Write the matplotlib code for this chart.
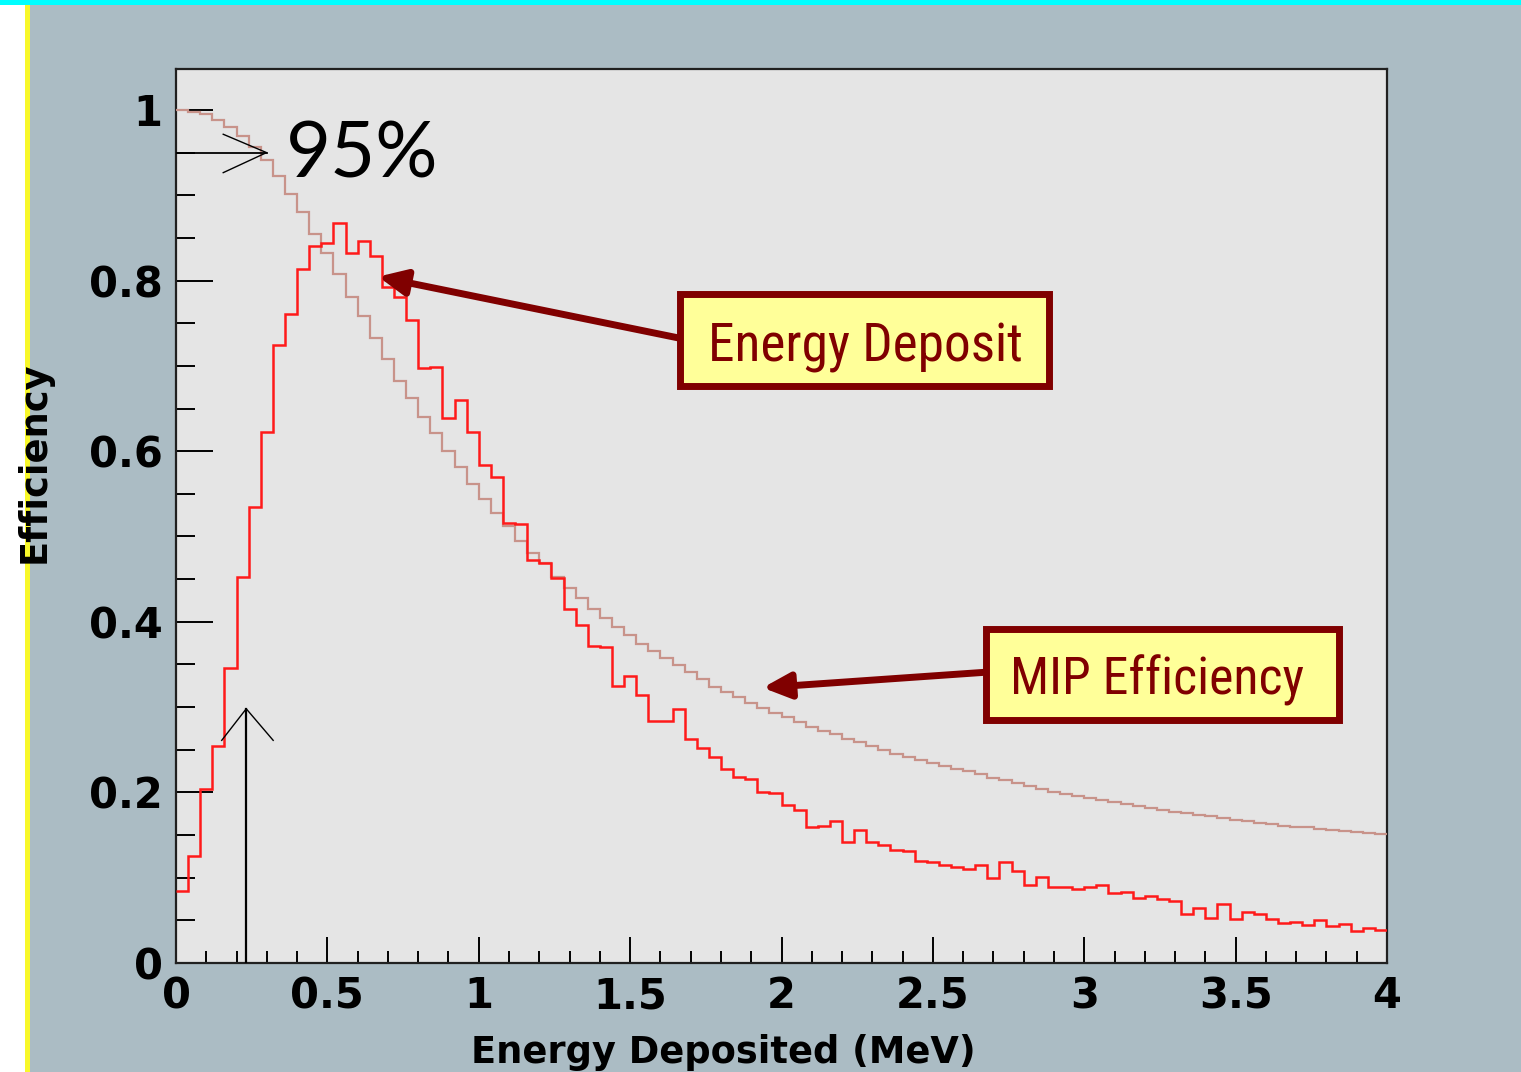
import numpy as np
import matplotlib
matplotlib.use("Agg")
import matplotlib.pyplot as plt
from matplotlib.patches import Rectangle
from matplotlib.ticker import MultipleLocator
import logging
logging.getLogger("matplotlib.font_manager").setLevel(logging.ERROR)

# ---------------- data ----------------
E_MIN, E_MAX, N_BINS = 0.0, 4.0, 100

energy_deposit = [
    0.084, 0.126, 0.204, 0.254, 0.346, 0.452, 0.534, 0.623, 0.724, 0.761,
    0.814, 0.840, 0.844, 0.867, 0.832, 0.846, 0.829, 0.792, 0.781, 0.754,
    0.698, 0.699, 0.639, 0.660, 0.622, 0.584, 0.570, 0.516, 0.515, 0.473,
    0.469, 0.451, 0.415, 0.396, 0.372, 0.371, 0.325, 0.337, 0.314, 0.284,
    0.284, 0.298, 0.263, 0.252, 0.241, 0.227, 0.218, 0.216, 0.200, 0.199,
    0.185, 0.179, 0.160, 0.161, 0.167, 0.142, 0.156, 0.142, 0.138, 0.133,
    0.131, 0.120, 0.118, 0.115, 0.112, 0.110, 0.115, 0.100, 0.118, 0.108,
    0.091, 0.101, 0.089, 0.089, 0.087, 0.089, 0.091, 0.082, 0.083, 0.076,
    0.078, 0.075, 0.073, 0.057, 0.065, 0.053, 0.069, 0.052, 0.060, 0.057,
    0.052, 0.047, 0.048, 0.044, 0.050, 0.043, 0.046, 0.038, 0.041, 0.039,
]

mip_efficiency = [
    1.000, 0.998, 0.995, 0.988, 0.980, 0.970, 0.957, 0.941, 0.923, 0.901,
    0.880, 0.855, 0.832, 0.808, 0.781, 0.758, 0.733, 0.708, 0.682, 0.662,
    0.640, 0.621, 0.600, 0.582, 0.562, 0.544, 0.527, 0.512, 0.495, 0.481,
    0.469, 0.452, 0.440, 0.428, 0.415, 0.404, 0.394, 0.385, 0.374, 0.366,
    0.357, 0.349, 0.341, 0.333, 0.324, 0.318, 0.312, 0.305, 0.299, 0.293,
    0.288, 0.282, 0.277, 0.272, 0.268, 0.263, 0.259, 0.254, 0.250, 0.245,
    0.241, 0.238, 0.234, 0.231, 0.228, 0.225, 0.221, 0.217, 0.2145, 0.211,
    0.207, 0.204, 0.201, 0.1985, 0.196, 0.193, 0.191, 0.189, 0.186, 0.184,
    0.182, 0.179, 0.177, 0.1755, 0.1735, 0.172, 0.170, 0.168, 0.1665, 0.1645,
    0.163, 0.161, 0.160, 0.159, 0.1575, 0.156, 0.1545, 0.153, 0.152, 0.151,
]

x_ticks = [0, 0.5, 1, 1.5, 2, 2.5, 3, 3.5, 4]
x_tick_labels = ["0", "0.5", "1", "1.5", "2", "2.5", "3", "3.5", "4"]
y_ticks = [0, 0.2, 0.4, 0.6, 0.8, 1.0]
y_tick_labels = ["0", "0.2", "0.4", "0.6", "0.8", "1"]

threshold_95 = 0.95      # efficiency level marked by the horizontal arrow
threshold_energy = 0.232 # energy marked by the vertical arrow
threshold_height = 0.298

# ---------------- styles ----------------
W, H, DPI = 1521, 1072, 100
BG = "#abbcc4"
PANEL = "#e5e5e5"
MAROON = "#800000"
BOXFILL = "#ffff99"
RED = "#ff1a1a"
MIPC = "#c8938a"

fig = plt.figure(figsize=(W / DPI, H / DPI), dpi=DPI)
fig.patch.set_facecolor(BG)

def fx(px):
    return px / W

def fy(py):
    return 1 - py / H

# decorative strips: white left margin, yellow line, cyan top line
fig.patches.append(Rectangle((0, 0), fx(25), 1, transform=fig.transFigure,
                             facecolor="white", edgecolor="none", zorder=0))
fig.patches.append(Rectangle((fx(25), 0), fx(4.5), 1, transform=fig.transFigure,
                             facecolor="#f8f82a", edgecolor="none", zorder=0))
fig.patches.append(Rectangle((0, fy(5)), 1, 5 / H, transform=fig.transFigure,
                             facecolor="#00ffff", edgecolor="none", zorder=0))

ax = fig.add_axes([fx(176), fy(963), fx(1387) - fx(176), fy(69) - fy(963)])
ax.set_facecolor(PANEL)

edges = np.linspace(E_MIN, E_MAX, N_BINS + 1)
ax.stairs(mip_efficiency, edges, baseline=None, color=MIPC, lw=1.6, zorder=3)
ax.stairs(energy_deposit, edges, baseline=None, color=RED, lw=1.8, zorder=4)

ax.set_xlim(E_MIN, E_MAX)
ax.set_ylim(0, 1.048)

ax.set_xticks(x_ticks)
ax.set_xticklabels(x_tick_labels)
ax.set_yticks(y_ticks)
ax.set_yticklabels(y_tick_labels)
ax.xaxis.set_minor_locator(MultipleLocator(0.1))
ax.yaxis.set_minor_locator(MultipleLocator(0.05))

ax.tick_params(axis="both", which="both", direction="in", width=1.4,
               color="black", top=False, right=False)
ax.tick_params(axis="x", which="major", length=18.5, pad=9)
ax.tick_params(axis="x", which="minor", length=8.5)
ax.tick_params(axis="y", which="major", length=26.5, pad=9.5)
ax.tick_params(axis="y", which="minor", length=13.5)
for lab in ax.get_xticklabels() + ax.get_yticklabels():
    lab.set_fontfamily("DejaVu Sans")
    lab.set_fontweight("bold")
    lab.set_fontsize(30)

for sp in ax.spines.values():
    sp.set_linewidth(1.6)
    sp.set_color("#202020")

# axis titles
fig.text(fx(723), fy(1063), "Energy Deposited (MeV)", ha="center", va="baseline",
         fontsize=26.5, fontweight="bold", family="DejaVu Sans")
fig.text(fx(45), fy(462), "Efficiency", rotation=90, rotation_mode="anchor",
         ha="center", va="baseline", fontsize=26.5, fontweight="bold",
         family="DejaVu Sans")

# hand-drawn black arrows
ax.plot([0, 0.299], [threshold_95, threshold_95], color="black", lw=1.3, zorder=5)
ax.plot([0.156, 0.299, 0.156], [0.9715, threshold_95, 0.9265], color="black",
        lw=1.0, zorder=5)
ax.plot([threshold_energy, threshold_energy], [0, threshold_height],
        color="black", lw=1.6, zorder=5)
ax.plot([0.151, threshold_energy, 0.321], [0.261, threshold_height, 0.261],
        color="black", lw=1.0, zorder=5)

fig.text(fx(362), fy(156), "95%", ha="center", va="center", fontsize=56,
         family="Lato", color="black")

# labelled boxes with arrows
arrow_style = "-|>,head_length=0.75,head_width=0.35"
ax.annotate("", xy=(0.668, 0.8046), xytext=(1.66, 0.7327),
            arrowprops=dict(arrowstyle=arrow_style, color=MAROON, lw=5,
                            mutation_scale=22, shrinkA=0, shrinkB=0), zorder=6)
ax.annotate("", xy=(1.938, 0.3227), xytext=(2.68, 0.341),
            arrowprops=dict(arrowstyle=arrow_style, color=MAROON, lw=5,
                            mutation_scale=22, shrinkA=0, shrinkB=0), zorder=6)

ax.add_patch(Rectangle((1.666, 0.676), 2.885 - 1.666, 0.7837 - 0.676,
                       facecolor=BOXFILL, edgecolor=MAROON, lw=5, zorder=7))
ax.add_patch(Rectangle((2.674, 0.2843), 3.840 - 2.674, 0.3921 - 0.2843,
                       facecolor=BOXFILL, edgecolor=MAROON, lw=5, zorder=7))

narrow = ["Liberation Sans Narrow", "Roboto Condensed", "Roboto"]
t1 = ax.text(2.277, 0.705, "Energy Deposit", ha="center", va="baseline",
             fontsize=36, color=MAROON, family=narrow, zorder=8)
t2 = ax.text(3.2416, 0.3142, "MIP Efficiency", ha="center", va="baseline",
             fontsize=36, color=MAROON, family=narrow, zorder=8)

# fit the box labels to the width they occupy in the reference
renderer = fig.canvas.get_renderer()
for t, target_px in ((t1, 315.0), (t2, 294.0)):
    w = t.get_window_extent(renderer).width
    t.set_fontsize(min(40, 36 * target_px / w))

fig.savefig("out.png", dpi=DPI, facecolor=fig.get_facecolor())
